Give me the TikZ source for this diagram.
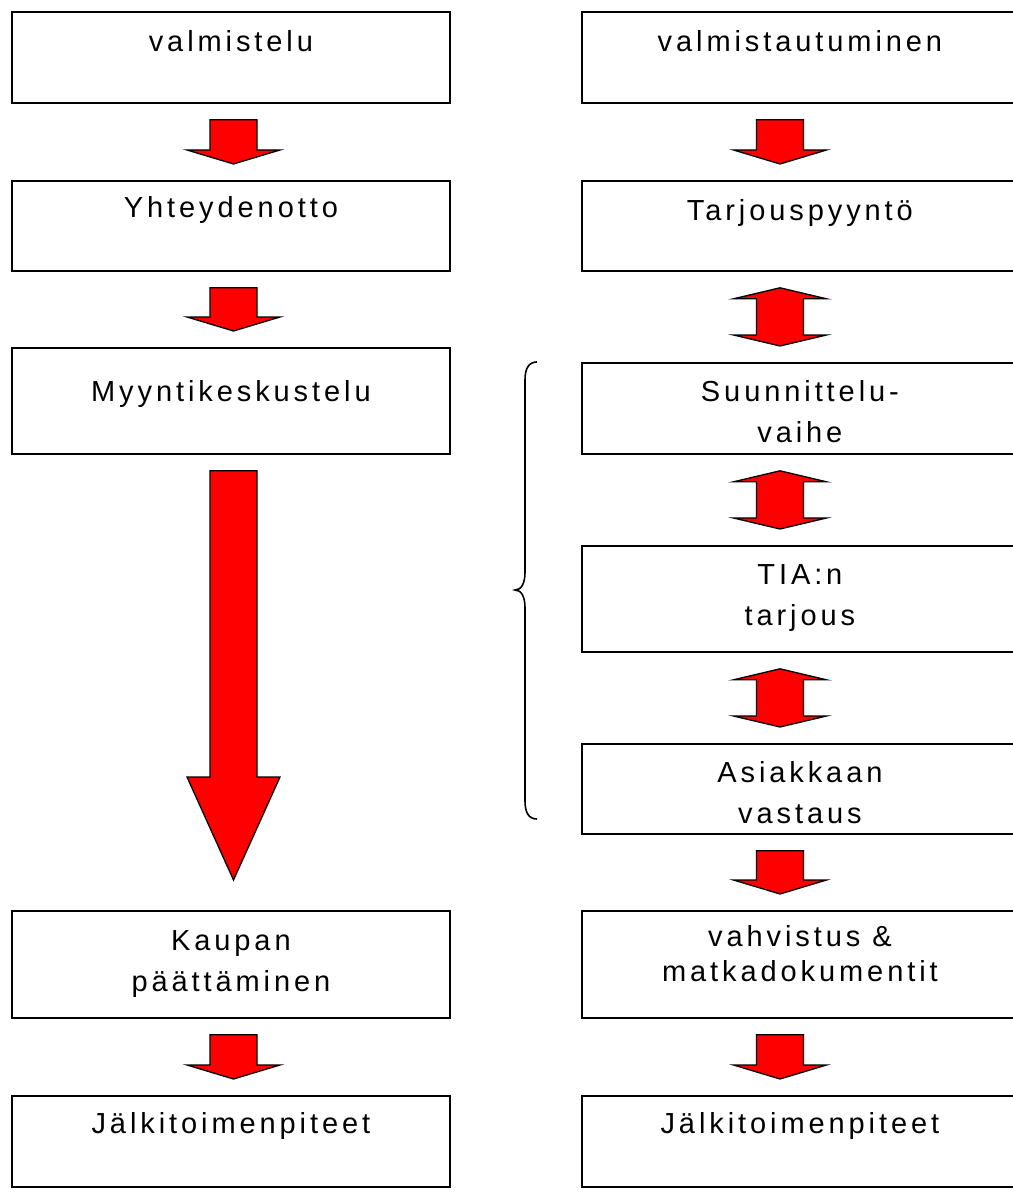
\documentclass[tikz,border=0pt]{standalone}
\usepackage{fontspec}
\newfontfamily\boxfont[LetterSpace=13.5]{Liberation Sans}
\usetikzlibrary{calc}

\tikzset{
  stepbox/.style={draw, line width=1.8pt, rectangle, inner sep=0pt, anchor=north west},
  boxtext/.style={anchor=base, inner sep=0pt, align=center, font=\boxfont\fontsize{29}{41}\selectfont},
  blockarrow/.style={draw=black, line width=1.3pt, fill=red, line join=miter},
}

% single block arrow: [bottom gap]{column}{upper box}{lower box}{head}
\newcommand{\downblock}[5][16]{%
  \path (#3.south -| #2) coordinate (t) (#4.north -| #2) coordinate (b);
  \draw[blockarrow] ($(t)+(-23.5,16)$) -- ($(t)+(23.5,16)$) -- ($(b)+(23.5,-#1-#5)$)
    -- ($(b)+(46.5,-#1-#5)$) -- ($(b)+(0,-#1)$) -- ($(b)+(-46.5,-#1-#5)$)
    -- ($(b)+(-23.5,-#1-#5)$) -- cycle;}
% double block arrow: {column}{upper box}{lower box}{head}
\newcommand{\bothblock}[4]{%
  \path (#2.south -| #1) coordinate (t) (#3.north -| #1) coordinate (b);
  \draw[blockarrow] ($(t)+(0,16)$) -- ($(t)+(46.5,16+#4)$) -- ($(t)+(23.5,16+#4)$)
    -- ($(b)+(23.5,-16-#4)$) -- ($(b)+(46.5,-16-#4)$) -- ($(b)+(0,-16)$)
    -- ($(b)+(-46.5,-16-#4)$) -- ($(b)+(-23.5,-16-#4)$)
    -- ($(t)+(-23.5,16+#4)$) -- ($(t)+(-46.5,16+#4)$) -- cycle;}

\begin{document}
\begin{tikzpicture}[x=1pt,y=1pt,yscale=-1]
\useasboundingbox (0,0) rectangle (1012,1193);
\coordinate (lcol) at (233.5,0);
\coordinate (rcol) at (780,0);

\node[stepbox, minimum width=438pt, minimum height=91pt] (valm) at (11,11) {};
\node[stepbox, minimum width=438pt, minimum height=90pt] (yht) at (11,180) {};
\node[stepbox, minimum width=438pt, minimum height=106pt] (myynti) at (11,347) {};
\node[stepbox, minimum width=438pt, minimum height=107pt] (kaupan) at (11,910) {};
\node[stepbox, minimum width=438pt, minimum height=91pt] (jalki) at (11,1095) {};

\node[stepbox, minimum width=436pt, minimum height=91pt] (valmr) at (581,11) {};
\node[stepbox, minimum width=436pt, minimum height=90pt] (tarj) at (581,180) {};
\node[stepbox, minimum width=436pt, minimum height=91pt] (suunn) at (581,362) {};
\node[stepbox, minimum width=436pt, minimum height=106pt] (tia) at (581,545) {};
\node[stepbox, minimum width=436pt, minimum height=90pt] (asiak) at (581,743) {};
\node[stepbox, minimum width=436pt, minimum height=107pt] (vahv) at (581,910) {};
\node[stepbox, minimum width=436pt, minimum height=91pt] (jalkir) at (581,1095) {};

\node[boxtext] (valmt) at ($(valm.north)+(0,41)$) {valmistelu};
\node[boxtext] (yhtt) at ($(yht.north)+(0,38)$) {Yhteydenotto};
\node[boxtext] (myyntit) at ($(myynti.north)+(0,54)$) {Myyntikeskustelu};
\node[boxtext] (kaupant) at ($(kaupan.north)+(0,81)$) {Kaupan\\päättäminen};
\node[boxtext] (jalkit) at ($(jalki.north)+(0,38)$) {Jälkitoimenpiteet};

\node[boxtext] (valmrt) at ($(valmr.north)+(0,41)$) {valmistautuminen};
\node[boxtext] (tarjt) at ($(tarj.north)+(0,40)$) {Tarjouspyyntö};
\node[boxtext] (suunnt) at ($(suunn.north)+(0,80)$) {Suunnittelu-\\vaihe};
\node[boxtext] (tiat) at ($(tia.north)+(0,80)$) {TIA:n\\tarjous};
\node[boxtext] (asiakt) at ($(asiak.north)+(0,80)$) {Asiakkaan\\vastaus};
\node[boxtext, font=\boxfont\fontsize{29}{35}\selectfont] (vahvt) at ($(vahv.north)+(0,71)$) {vahvistus \&\\matkadokumentit};
\node[boxtext] (jalkirt) at ($(jalkir.north)+(0,38)$) {Jälkitoimenpiteet};

\downblock{lcol}{valm}{yht}{14}
\downblock{lcol}{yht}{myynti}{14}
\downblock[30]{lcol}{myynti}{kaupan}{103}
\downblock{lcol}{kaupan}{jalki}{14}

\downblock{rcol}{valmr}{tarj}{14}
\bothblock{rcol}{tarj}{suunn}{11}
\bothblock{rcol}{suunn}{tia}{11}
\bothblock{rcol}{tia}{asiak}{11}
\downblock{rcol}{asiak}{vahv}{14}
\downblock{rcol}{vahv}{jalkir}{14}

\draw[line width=1.6pt] (537,362) .. controls (529,362) and (525,368) .. (525,380) -- (525,572)
  .. controls (525,584) and (521,590) .. (515,590) .. controls (521,590) and (525,596) .. (525,608)
  -- (525,801) .. controls (525,813) and (529,819) .. (537,819);
\end{tikzpicture}
\end{document}
